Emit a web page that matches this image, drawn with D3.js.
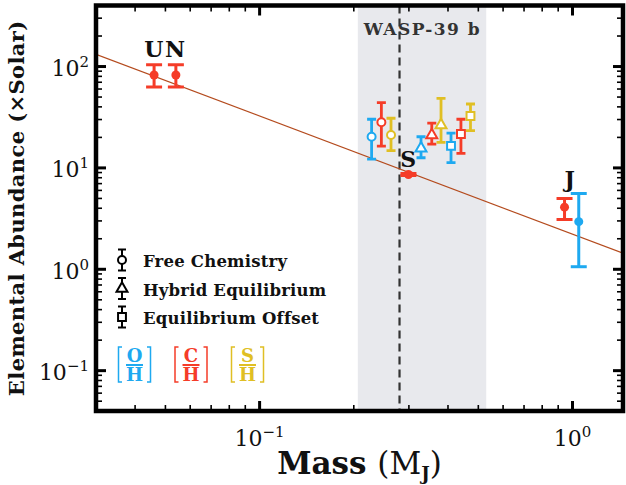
<!DOCTYPE html>
<html><head><meta charset="utf-8">
<script src="https://cdn.jsdelivr.net/npm/d3@7"></script>
<style>body{margin:0;background:#fff}svg{display:block}</style>
</head><body><svg id="chart" width="626" height="485"></svg>
<script>
// ---- data ----
// Solar-system giants: Uranus, Neptune, Saturn, Jupiter (C/H) and Jupiter (O/H)
const solarMass    = [0.046, 0.054, 0.299, 0.943, 1.047];
const solarSpecies = ["C", "C", "C", "C", "O"];
const solarValue   = [82.5, 82.5, 8.6, 4.1, 2.95];
const solarLow     = [63, 63, 8.4, 3.1, 1.06];
const solarHigh    = [104, 104, 8.8, 5.0, 5.6];

// WASP-39 b retrievals
const waspMass    = [0.228, 0.245, 0.263, 0.328, 0.355, 0.380, 0.409, 0.440, 0.472];
const waspMethod  = ["free", "free", "free", "hybrid", "hybrid", "hybrid", "offset", "offset", "offset"];
const waspSpecies = ["O", "C", "S", "O", "C", "S", "O", "C", "S"];
const waspValue   = [20.3, 28.2, 21.1, 15.6, 21.1, 26.5, 16.5, 21.6, 32.5];
const waspLow     = [12.2, 16.4, 14.8, 12.6, 17.2, 17.9, 11.3, 13.9, 23.3];
const waspHigh    = [30.2, 44.0, 30.9, 20.3, 27.6, 48.6, 22.0, 30.2, 42.7];

const waspPlanetMass = 0.28;
const waspMassRange  = [0.206, 0.53];

// mass-metallicity trend, end points
const trendMass  = [0.03, 1.45];
const trendValue = [132, 1.44];

// planet labels
const planetLabels = ["UN", "S", "J"];
const planetLabelMass  = [0.05, 0.3, 0.985];
const planetLabelValue = [124, 10.1, 6.5];

const xTickValues = [0.1, 1];
const xTickExp    = ["\u22121", "0"];
const yTickValues = [0.1, 1, 10, 100];
const yTickExp    = ["\u22121", "0", "1", "2"];

const methods      = ["free", "hybrid", "offset"];
const methodLabels = ["Free Chemistry", "Hybrid Equilibrium", "Equilibrium Offset"];
const speciesKeys  = ["O", "C", "S"];

// ---- drawing ----
const colors = {O: "#1ea9f0", C: "#f53c28", S: "#e0bf24"};
const serif = "'DejaVu Serif', serif";

const plot = {left: 96, right: 623, top: 5.5, bottom: 411};
const svg = d3.select("#chart");

const x = d3.scaleLog().domain([0.03, 1.45]).range([plot.left, plot.right]);
const y = d3.scaleLog().domain([0.04, 400]).range([plot.bottom, plot.top]);

svg.append("defs").append("clipPath").attr("id", "plotClip")
  .append("rect").attr("x", plot.left).attr("y", plot.top)
  .attr("width", plot.right - plot.left).attr("height", plot.bottom - plot.top);

const body = svg.append("g").attr("clip-path", "url(#plotClip)");

// mass range of WASP-39 b
body.append("rect")
  .attr("x", x(waspMassRange[0])).attr("y", plot.top)
  .attr("width", x(waspMassRange[1]) - x(waspMassRange[0]))
  .attr("height", plot.bottom - plot.top)
  .attr("fill", "#e8e9ed");

body.append("line")
  .attr("x1", x(waspPlanetMass)).attr("x2", x(waspPlanetMass))
  .attr("y1", plot.top).attr("y2", plot.bottom)
  .attr("stroke", "#333").attr("stroke-width", 2.2).attr("stroke-dasharray", "8,5");

// trend line
body.append("path")
  .datum(trendMass.map((m, i) => [m, trendValue[i]]))
  .attr("d", d3.line().x(d => x(d[0])).y(d => y(d[1])))
  .attr("fill", "none").attr("stroke", "#b44b1e").attr("stroke-width", 1.2);

// error bar helper
function errorBar(g, cx, lo, hi, half, color, width) {
  g.append("line").attr("x1", cx).attr("x2", cx).attr("y1", lo).attr("y2", hi)
    .attr("stroke", color).attr("stroke-width", width);
  [lo, hi].forEach(v => g.append("line")
    .attr("x1", cx - half).attr("x2", cx + half).attr("y1", v).attr("y2", v)
    .attr("stroke", color).attr("stroke-width", width));
}

function marker(g, method, cx, cy, color, fill) {
  if (method === "free") {
    g.append("circle").attr("cx", cx).attr("cy", cy).attr("r", 4)
      .attr("fill", fill).attr("stroke", color).attr("stroke-width", 2);
  } else {
    const type = method === "hybrid" ? d3.symbolTriangle : d3.symbolSquare;
    const size = method === "hybrid" ? 52 : 62;
    g.append("path").attr("d", d3.symbol().type(type).size(size)())
      .attr("transform", `translate(${cx},${cy})`)
      .attr("fill", fill).attr("stroke", color).attr("stroke-width", 2);
  }
}

// solar-system planets
const solarG = body.append("g");
solarMass.forEach((m, i) => {
  const c = colors[solarSpecies[i]];
  errorBar(solarG, x(m), y(solarLow[i]), y(solarHigh[i]), 8, c, 3);
  solarG.append("circle").attr("cx", x(m)).attr("cy", y(solarValue[i])).attr("r", 4.5).attr("fill", c);
});

// WASP-39 b retrievals
const waspG = body.append("g");
waspMass.forEach((m, i) => {
  const c = colors[waspSpecies[i]];
  errorBar(waspG, x(m), y(waspLow[i]), y(waspHigh[i]), 4.5, c, 2.8);
  marker(waspG, waspMethod[i], x(m), y(waspValue[i]), c, "#fff");
});

// labels
svg.append("text").attr("x", x(waspPlanetMass) + 23).attr("y", 35)
  .attr("text-anchor", "middle").attr("font-family", serif).attr("font-weight", "bold")
  .attr("font-size", 17).attr("letter-spacing", 1.5).attr("fill", "#333").text("WASP-39 b");

planetLabels.forEach((t, i) => {
  svg.append("text").attr("x", x(planetLabelMass[i])).attr("y", y(planetLabelValue[i]))
    .attr("text-anchor", "middle").attr("font-family", serif).attr("font-weight", "bold")
    .attr("font-size", 22).attr("letter-spacing", 1.5).attr("fill", "#111").text(t);
});

// legend: retrieval methods
const legend = svg.append("g");
methods.forEach((m, i) => {
  const base = 267 + i * 28.5;
  const cy = base - 7;
  errorBar(legend, 122, cy - 10.5, cy + 10.5, 4, "#000", 2);
  marker(legend, m, 122, cy, "#000", "#fff");
  legend.append("text").attr("x", 143).attr("y", base)
    .attr("font-family", serif).attr("font-weight", "bold").attr("font-size", 16.5)
    .attr("letter-spacing", 0.2).attr("fill", "#111").text(methodLabels[i]);
});

// legend: species ratios
speciesKeys.forEach((s, i) => {
  const cx = 134.5 + i * 56.5;
  const c = colors[s];
  const g = legend.append("g");
  g.append("text").attr("x", cx).attr("y", 361.5).attr("text-anchor", "middle")
    .attr("font-family", serif).attr("font-weight", "bold").attr("font-size", 18).attr("fill", c).text(s);
  g.append("line").attr("x1", cx - 8.5).attr("x2", cx + 8.5).attr("y1", 365).attr("y2", 365)
    .attr("stroke", c).attr("stroke-width", 2);
  g.append("text").attr("x", cx).attr("y", 380.5).attr("text-anchor", "middle")
    .attr("font-family", serif).attr("font-weight", "bold").attr("font-size", 18).attr("fill", c).text("H");
  g.append("path").attr("d", `M${cx - 12.5},347 H${cx - 16} V382 H${cx - 12.5}`)
    .attr("fill", "none").attr("stroke", c).attr("stroke-width", 1.5);
  g.append("path").attr("d", `M${cx + 12.5},347 H${cx + 16} V382 H${cx + 12.5}`)
    .attr("fill", "none").attr("stroke", c).attr("stroke-width", 1.5);
});

// ticks on all four sides, pointing inwards
function minorTicks(domain) {
  const out = [];
  for (let e = -3; e <= 3; e++) {
    for (let k = 1; k <= 9; k++) {
      const v = k * Math.pow(10, e);
      if (v >= domain[0] * 0.9999 && v <= domain[1] * 1.0001) out.push(v);
    }
  }
  return out;
}
const ticks = svg.append("g");
minorTicks(x.domain()).forEach(v => {
  const major = xTickValues.some(t => Math.abs(t - v) < 1e-9);
  const len = major ? 10 : 6, w = major ? 3 : 1.6;
  const px = x(v);
  ticks.append("line").attr("x1", px).attr("x2", px).attr("y1", plot.bottom).attr("y2", plot.bottom - len)
    .attr("stroke", "#000").attr("stroke-width", w);
  ticks.append("line").attr("x1", px).attr("x2", px).attr("y1", plot.top).attr("y2", plot.top + len)
    .attr("stroke", "#000").attr("stroke-width", w);
});
minorTicks(y.domain()).forEach(v => {
  const major = yTickValues.some(t => Math.abs(t - v) / t < 1e-9);
  const len = major ? 10 : 6, w = major ? 3 : 1.6;
  const py = y(v);
  ticks.append("line").attr("x1", plot.left).attr("x2", plot.left + len).attr("y1", py).attr("y2", py)
    .attr("stroke", "#000").attr("stroke-width", w);
  ticks.append("line").attr("x1", plot.right).attr("x2", plot.right - len).attr("y1", py).attr("y2", py)
    .attr("stroke", "#000").attr("stroke-width", w);
});

// frame
svg.append("rect").attr("x", plot.left).attr("y", plot.top)
  .attr("width", plot.right - plot.left).attr("height", plot.bottom - plot.top)
  .attr("fill", "none").attr("stroke", "#000").attr("stroke-width", 4.5);

// tick labels
xTickValues.forEach((v, i) => {
  const t = svg.append("text").attr("x", x(v)).attr("y", 446).attr("text-anchor", "middle")
    .attr("font-family", serif).attr("font-size", 22).attr("fill", "#111");
  t.append("tspan").text("10");
  t.append("tspan").attr("dy", -9).attr("font-size", 15).text(xTickExp[i]);
});
yTickValues.forEach((v, i) => {
  const t = svg.append("text").attr("x", 89).attr("y", y(v) + 9.5).attr("text-anchor", "end")
    .attr("font-family", serif).attr("font-size", 22).attr("fill", "#111");
  t.append("tspan").text("10");
  t.append("tspan").attr("dy", -9).attr("font-size", 15).text(yTickExp[i]);
});

// axis titles
const xt = svg.append("text").attr("x", (plot.left + plot.right) / 2).attr("y", 474)
  .attr("text-anchor", "middle").attr("font-family", serif).attr("font-size", 31).attr("fill", "#111");
xt.append("tspan").attr("font-weight", "bold").text("Mass ");
xt.append("tspan").text("(M");
xt.append("tspan").attr("font-size", 18).attr("font-weight", "bold").attr("dy", 6).text("J");
xt.append("tspan").attr("dy", -6).text(")");

svg.append("text")
  .attr("transform", `translate(24,${(plot.top + plot.bottom) / 2}) rotate(-90)`)
  .attr("text-anchor", "middle").attr("font-family", serif).attr("font-weight", "bold")
  .attr("font-size", 21).attr("letter-spacing", 0.4).attr("fill", "#111").text("Elemental Abundance (\u00d7Solar)");
</script></body></html>
